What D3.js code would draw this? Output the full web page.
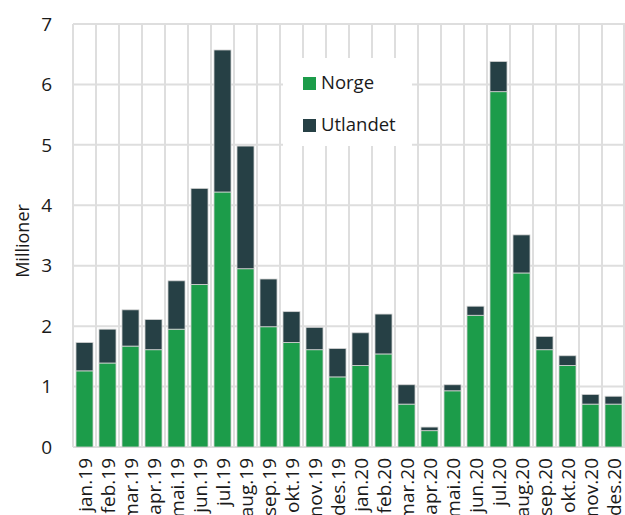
<!DOCTYPE html>
<html>
<head>
<meta charset="utf-8">
<script src="https://cdn.jsdelivr.net/npm/d3@7"></script>
<style>
  html, body { margin: 0; padding: 0; background: #fff; overflow: hidden; }
  text { font-family: "Open Sans", sans-serif; fill: #1a1a1a; }
</style>
</head>
<body>
<svg id="chart" width="625" height="515"></svg>
<script>
const months = ["jan.19","feb.19","mar.19","apr.19","mai.19","jun.19","jul.19","aug.19","sep.19","okt.19","nov.19","des.19",
                "jan.20","feb.20","mar.20","apr.20","mai.20","jun.20","jul.20","aug.20","sep.20","okt.20","nov.20","des.20"];
const norge    = [1.26,1.39,1.67,1.61,1.95,2.69,4.22,2.95,1.99,1.73,1.61,1.16,1.35,1.54,0.71,0.27,0.93,2.18,5.88,2.88,1.61,1.35,0.71,0.71];
const utlandet = [0.47,0.56,0.60,0.50,0.80,1.59,2.35,2.03,0.79,0.51,0.37,0.47,0.54,0.66,0.32,0.06,0.10,0.15,0.50,0.63,0.22,0.16,0.16,0.13];
const seriesNames = ["Norge","Utlandet"];
const seriesColors = ["#1c9c4a","#264045"];
const yTicks = [0,1,2,3,4,5,6,7];
const yTitle = "Millioner";

const rows = months.map((m,i) => ({month:m, Norge:norge[i], Utlandet:utlandet[i]}));

const svg = d3.select("#chart");
const plotL = 73, plotR = 625, plotT = 24, plotB = 447;

const xGrid = d3.scaleBand().domain(months).range([plotL,plotR]).padding(0);
const x = d3.scaleBand().domain(months).range([plotL,plotR]).paddingInner(0.26).paddingOuter(0.13);
const y = d3.scaleLinear().domain([0,7]).range([plotB,plotT]);

const grid = svg.append("g");
grid.selectAll("line.h").data(yTicks).join("line")
  .attr("x1", plotL).attr("x2", plotR)
  .attr("y1", d => y(d)).attr("y2", d => y(d))
  .attr("stroke", "#dedede").attr("stroke-width", 2);
grid.selectAll("line.v").data(months.concat(["__end"])).join("line")
  .attr("x1", d => d === "__end" ? plotR - 1 : xGrid(d))
  .attr("x2", d => d === "__end" ? plotR - 1 : xGrid(d))
  .attr("y1", plotT).attr("y2", plotB)
  .attr("stroke", "#dedede").attr("stroke-width", 2);

// legend background (covers gridlines)
svg.append("rect").attr("x", 283).attr("y", 58).attr("width", 129).attr("height", 88).attr("fill", "#fff");

// stacked bars
const stack = d3.stack().keys(seriesNames)(rows);
svg.append("g").selectAll("g").data(stack).join("g")
  .attr("fill", (d,i) => seriesColors[i])
  .selectAll("rect").data(d => d).join("rect")
  .attr("x", d => x(d.data.month))
  .attr("width", x.bandwidth())
  .attr("y", d => y(d[1]))
  .attr("height", d => y(d[0]) - y(d[1]))
  .attr("stroke", "#d4d4d4").attr("stroke-width", 0.8);

// y tick labels
svg.append("g").selectAll("text").data(yTicks).join("text")
  .attr("x", 52).attr("y", d => y(d)).attr("dy", "0.35em")
  .attr("text-anchor", "end").attr("font-size", 19)
  .text(d => d);

// y title
svg.append("text")
  .attr("transform", "translate(29,241) rotate(-90)")
  .attr("text-anchor", "middle").attr("font-size", 18)
  .text(yTitle);

// x labels
svg.append("g").selectAll("text").data(months).join("text")
  .attr("transform", d => `translate(${xGrid(d) + xGrid.bandwidth()/2 + 1},458) rotate(-90)`)
  .attr("dy", "0.35em")
  .attr("text-anchor", "end").attr("font-size", 19)
  .text(d => d);

// legend
const lg = svg.append("g");
seriesNames.forEach((name,i) => {
  lg.append("rect").attr("x", 303).attr("y", 77 + i*42).attr("width", 13).attr("height", 13).attr("fill", seriesColors[i]);
  lg.append("text").attr("x", 321).attr("y", 89 + i*42).attr("font-size", 18.5).text(name);
});
</script>
</body>
</html>
